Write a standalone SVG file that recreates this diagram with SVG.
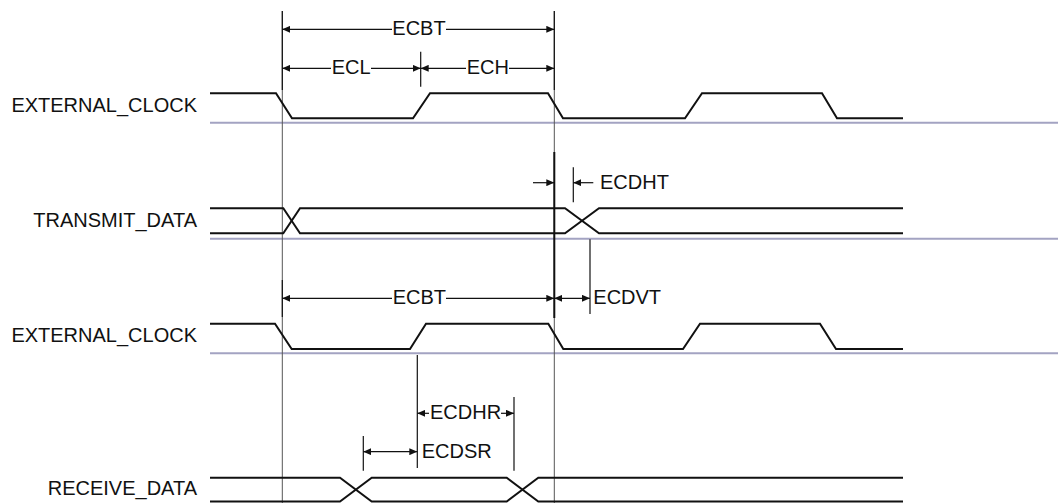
<svg xmlns="http://www.w3.org/2000/svg" width="1058" height="503" viewBox="0 0 1058 503">
<defs>
<style>
text{font-family:"Liberation Sans",Arial,sans-serif;font-size:20px;fill:#111}
.lbl{text-anchor:end}
.sig{fill:none;stroke:#111;stroke-width:2;stroke-linejoin:miter}
.base{stroke:#a3a3c2;stroke-width:2}
.ref{stroke:#555;stroke-width:1}
.tick{stroke:#111;stroke-width:1.2}
.dim{stroke:#111;stroke-width:1.2;fill:none}
.a2{marker-start:url(#ah);marker-end:url(#ah)}
.ae{marker-end:url(#ah)}
.as{marker-start:url(#ah)}
</style>
<marker id="ah" viewBox="0 0 8 7" refX="8" refY="3.5" markerWidth="8" markerHeight="7" markerUnits="userSpaceOnUse" orient="auto-start-reverse">
<path d="M0,0 L8,3.5 L0,7 z" fill="#111"/>
</marker>
</defs>
<rect width="1058" height="503" fill="#fff"/>

<g id="baselines">
<line class="base" x1="210" y1="122.7" x2="1058" y2="122.7"/>
<line class="base" x1="210" y1="238.7" x2="1058" y2="238.7"/>
<line class="base" x1="210" y1="353.3" x2="1058" y2="353.3"/>
</g>

<g id="references">
<line class="ref" x1="282.3" y1="11" x2="282.3" y2="503"/>
<line class="ref" x1="554.3" y1="11" x2="554.3" y2="503"/>
<line x1="554.3" y1="152" x2="554.3" y2="318" stroke="#111" stroke-width="2"/>
</g>

<g id="external_clock_1">
<text class="lbl" x="197" y="112.3">EXTERNAL_CLOCK</text>
<polyline class="sig" points="210,93.3 276,93.3 292,118.3 413,118.3 430,93.3 548,93.3 563,118.3 685,118.3 702,93.3 822,93.3 837,118.3 903,118.3"/>
</g>

<g id="transmit_data">
<text class="lbl" x="197" y="226.7">TRANSMIT_DATA</text>
<polyline class="sig" points="210,208.3 283.3,208.3 300,233.3 565,233.3 599,208.3 903,208.3"/>
<polyline class="sig" points="210,233.3 283.3,233.3 300,208.3 565,208.3 599,233.3 903,233.3"/>
</g>

<g id="external_clock_2">
<text class="lbl" x="197" y="341.7">EXTERNAL_CLOCK</text>
<polyline class="sig" points="210,323.7 275,323.7 291.7,349 410,349 426,323.7 548.3,323.7 563.3,349 683,349 700,323.7 820,323.7 836,349 903,349"/>
</g>

<g id="receive_data">
<text class="lbl" x="197" y="495">RECEIVE_DATA</text>
<polyline class="sig" points="210,477.7 340,477.7 371.7,501.5 506.7,501.5 538.3,477.7 903,477.7"/>
<polyline class="sig" points="210,501.5 340,501.5 371.7,477.7 506.7,477.7 538.3,501.5 903,501.5"/>
</g>

<g id="connectors">
<!-- top ECBT -->
<line class="tick" x1="282.3" y1="11" x2="282.3" y2="90"/>
<line class="tick" x1="554.3" y1="11" x2="554.3" y2="90"/>
<line class="dim as" x1="282.3" y1="29.3" x2="392" y2="29.3"/>
<line class="dim ae" x1="446" y1="29.3" x2="554.3" y2="29.3"/>
<!-- ECL / ECH -->
<line class="tick" x1="420.7" y1="51.7" x2="420.7" y2="86.7"/>
<line class="dim as" x1="282.3" y1="68.3" x2="331" y2="68.3"/>
<line class="dim ae" x1="371" y1="68.3" x2="420.7" y2="68.3"/>
<line class="dim as" x1="420.7" y1="68.3" x2="466" y2="68.3"/>
<line class="dim ae" x1="509" y1="68.3" x2="554.3" y2="68.3"/>
<!-- ECDHT -->
<line class="dim ae" x1="533" y1="182.7" x2="554.3" y2="182.7"/>
<line class="tick" x1="573.3" y1="167.3" x2="573.3" y2="202.3"/>
<line class="dim ae" x1="593.3" y1="182.7" x2="573.3" y2="182.7"/>
<!-- second ECBT / ECDVT -->
<line class="tick" x1="282.3" y1="280" x2="282.3" y2="317"/>
<line class="dim as" x1="282.3" y1="298.3" x2="392" y2="298.3"/>
<line class="dim ae" x1="446" y1="298.3" x2="554.3" y2="298.3"/>
<line class="tick" x1="590" y1="239.3" x2="590" y2="314"/>
<line class="dim a2" x1="554.3" y1="298.3" x2="590" y2="298.3"/>
<!-- ECDHR / ECDSR -->
<line class="tick" x1="417.3" y1="355" x2="417.3" y2="468"/>
<line class="tick" x1="514" y1="397" x2="514" y2="470.7"/>
<line class="tick" x1="363.3" y1="436" x2="363.3" y2="470.7"/>
<line class="dim ae" x1="429" y1="413.3" x2="417.3" y2="413.3"/>
<line class="dim ae" x1="501" y1="413.3" x2="514" y2="413.3"/>
<line class="dim a2" x1="363.3" y1="451.7" x2="417.3" y2="451.7"/>
</g>

<g id="dimension_labels">
<text x="419" y="35" text-anchor="middle">ECBT</text>
<text x="331.7" y="74">ECL</text>
<text x="466.7" y="74">ECH</text>
<text x="600" y="189.3">ECDHT</text>
<text x="392.7" y="304.3">ECBT</text>
<text x="593.3" y="304.3">ECDVT</text>
<text x="430" y="419.3">ECDHR</text>
<text x="421.7" y="458">ECDSR</text>
</g>
</svg>
